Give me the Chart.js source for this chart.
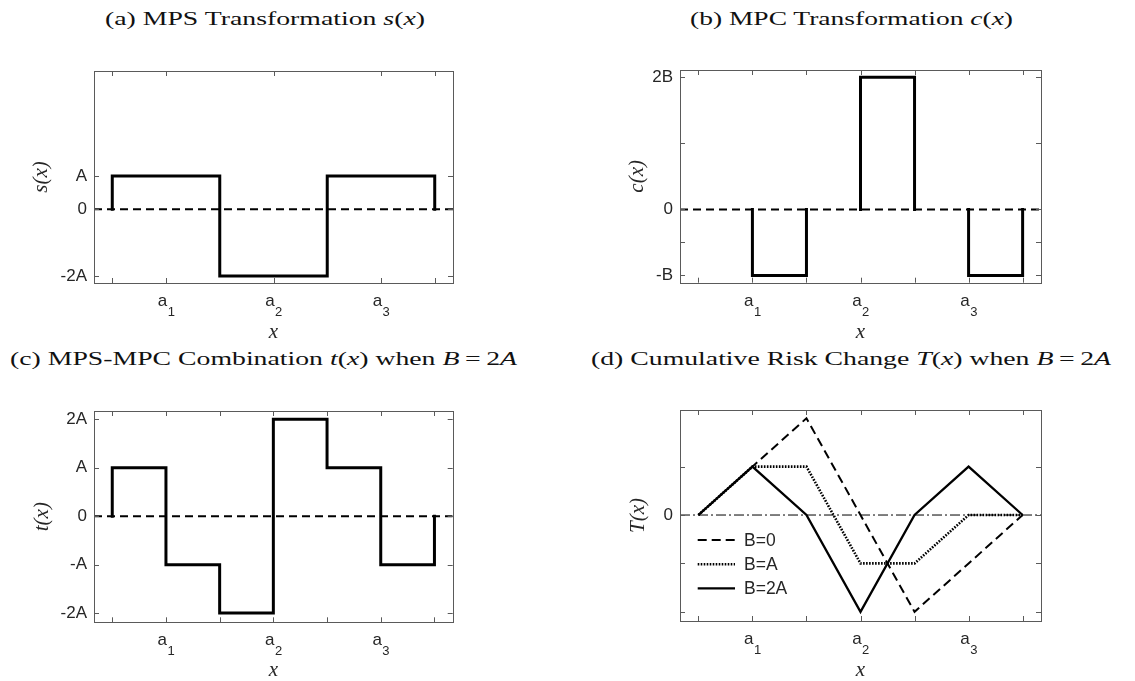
<!DOCTYPE html>
<html><head><meta charset="utf-8">
<script src="https://cdn.jsdelivr.net/npm/chart.js@4.4.1/dist/chart.umd.min.js"></script>
<style>
html,body{margin:0;padding:0;background:#fff;}
body{width:1135px;height:681px;position:relative;overflow:hidden;}
canvas{position:absolute;}
.ttl{position:absolute;font-family:"Liberation Serif",serif;font-size:19.5px;line-height:19.5px;color:#111;white-space:nowrap;transform-origin:0 0;}
</style></head><body>
<div id="tA" class="ttl">(a) MPS Transformation <i>s</i>(<i>x</i>)</div>
<div id="tB" class="ttl">(b) MPC Transformation <i>c</i>(<i>x</i>)</div>
<div id="tC" class="ttl">(c) MPS-MPC Combination <i>t</i>(<i>x</i>) when <i>B</i>&#8201;=&#8201;2<i>A</i></div>
<div id="tD" class="ttl">(d) Cumulative Risk Change <i>T</i>(<i>x</i>) when <i>B</i>&#8201;=&#8201;2<i>A</i></div>
<canvas id="cA"></canvas>
<canvas id="cB"></canvas>
<canvas id="cC"></canvas>
<canvas id="cD"></canvas>
<script>
// ---------------- data ----------------
const xTicksSparse = [0, 1, 3, 5, 6];
const xTicksFull = [0, 1, 2, 3, 4, 5, 6];
const xLabelValues = [1, 3, 5];
const xLabelSubs = ['1', '2', '3'];

// (a) s(x)
const sX = [0, 0, 2, 2, 4, 4, 6, 6];
const sY = [0, 1, 1, -2, -2, 1, 1, 0];
const yTicksA = [-2, 0, 1];
const yLabelsA = ['-2A', '0', 'A'];

// (b) c(x)  (null = gap)
const cX = [1, 1, 2, 2, 2, 3, 3, 4, 4, 4, 5, 5, 6, 6];
const cY = [0, -1, -1, 0, null, 0, 2, 2, 0, null, 0, -1, -1, 0];
const yTicksB = [-1, -0.5, 0, 1, 2];
const yLabelsB = ['-B', '', '0', '', '2B'];

// (c) t(x)
const tX = [0, 0, 1, 1, 2, 2, 3, 3, 4, 4, 5, 5, 6, 6];
const tY = [0, 1, 1, -1, -1, -2, -2, 2, 2, 1, 1, -1, -1, 0];
const yTicksC = [-2, -1, 0, 1, 2];
const yLabelsC = ['-2A', '-A', '0', 'A', '2A'];

// (d) T(x)
const dX = [0, 1, 2, 3, 4, 5, 6];
const T_B0 = [0, 1, 2, 0, -2, -1, 0];
const T_BA = [0, 1, 1, -1, -1, 0, 0];
const T_B2A = [0, 1, 0, -2, 0, 1, 0];
const legendLabels = ['B=0', 'B=A', 'B=2A'];
const yTicksD = [-2, -1, 0, 1];
const yLabelsD = ['', '', '0', ''];

// axis limits
const xMin = -0.34, xMax = 6.34;
const yRangeA = [-2.21, 4.15];
const yRangeB = [-1.11, 2.11];
const yRangeC = [-2.19, 2.17];
const yRangeD = [-2.19, 2.17];

// ---------------- helpers ----------------
const TXT = '#262626';
const FRAME = '#5a5a5a';
const pts = (xs, ys) => xs.map((x, i) => ({x: x, y: ys[i]}));

const framePlugin = {
  id: 'frame',
  afterDatasetsDraw(chart) {
    const {ctx, chartArea: a, scales} = chart;
    ctx.save();
    ctx.strokeStyle = FRAME;
    ctx.lineWidth = 1;
    ctx.beginPath();
    const tl = 5;
    scales.x.ticks.forEach(t => {
      const px = Math.round(scales.x.getPixelForValue(t.value)) + 0.5;
      ctx.moveTo(px, a.top); ctx.lineTo(px, a.top + tl);
      ctx.moveTo(px, a.bottom); ctx.lineTo(px, a.bottom - tl);
    });
    scales.y.ticks.forEach(t => {
      const py = Math.round(scales.y.getPixelForValue(t.value)) + 0.5;
      ctx.moveTo(a.left, py); ctx.lineTo(a.left + tl, py);
      ctx.moveTo(a.right, py); ctx.lineTo(a.right - tl, py);
    });
    ctx.stroke();
    ctx.strokeRect(Math.round(a.left) + 0.5, Math.round(a.top) + 0.5,
                   Math.round(a.right - a.left), Math.round(a.bottom - a.top));
    ctx.restore();
  }
};

const subLabelPlugin = {
  id: 'subLabels',
  afterDraw(chart) {
    const {ctx, chartArea: a, scales} = chart;
    ctx.save();
    ctx.fillStyle = TXT;
    ctx.textBaseline = 'alphabetic';
    ctx.textAlign = 'left';
    const mainFont = '17px "Liberation Sans", Arial, sans-serif';
    const subFont = '13px "Liberation Sans", Arial, sans-serif';
    xLabelValues.forEach((v, i) => {
      const px = scales.x.getPixelForValue(v);
      ctx.font = mainFont; const w1 = ctx.measureText('a').width;
      ctx.font = subFont; const w2 = ctx.measureText(xLabelSubs[i]).width;
      const x0 = px - (w1 + w2) / 2;
      const base = a.bottom + 23;
      ctx.font = mainFont; ctx.fillText('a', x0, base);
      ctx.font = subFont; ctx.fillText(xLabelSubs[i], x0 + w1 + 0.5, base + 10);
    });
    ctx.restore();
  }
};

const legendPlugin = {
  id: 'dLegend',
  afterDraw(chart, args, opts) {
    if (!opts || !opts.show) return;
    const {ctx, chartArea: a} = chart;
    ctx.save();
    ctx.font = '17.5px "Liberation Sans", Arial, sans-serif';
    ctx.textBaseline = 'middle';
    ctx.fillStyle = TXT;
    legendLabels.forEach((lab, i) => {
      const ds = chart.data.datasets.find(d => d.label === lab);
      const y = a.top + 130 + i * 24.2;
      ctx.save();
      ctx.strokeStyle = ds.borderColor;
      ctx.lineWidth = ds.borderWidth;
      ctx.setLineDash(ds.borderDash || []);
      ctx.beginPath();
      ctx.moveTo(a.left + 17.7, y); ctx.lineTo(a.left + 55, y);
      ctx.stroke();
      ctx.restore();
      ctx.fillText(lab, a.left + 64, y + 1);
    });
    ctx.restore();
  }
};

function makePanel(id, rect, area, yRange, xTicks, yTicks, yLabels, yTitle, yTitleX, xTitleY, datasets, showLegend) {
  const cv = document.getElementById(id);
  cv.width = rect.w; cv.height = rect.h;
  cv.style.left = rect.x + 'px'; cv.style.top = rect.y + 'px';
  cv.style.width = rect.w + 'px'; cv.style.height = rect.h + 'px';
  const L = area.l - rect.x;
  const T = area.t - rect.y;
  const R = rect.x + rect.w - area.r;
  const Bt = rect.y + rect.h - area.b;
  const tFontSize = 21;
  const lh = tFontSize * 1.0;
  const yPad = Math.max(0, yTitleX - rect.x - lh / 2);
  const xPad = Math.max(0, rect.h - (xTitleY - rect.y) - lh / 2);
  return new Chart(cv, {
    type: 'line',
    data: {datasets: datasets},
    options: {
      responsive: false,
      animation: false,
      devicePixelRatio: 1,
      layout: {padding: {left: 0, top: T, right: R, bottom: 0}},
      elements: {point: {radius: 0}, line: {tension: 0}},
      plugins: {legend: {display: false}, tooltip: {enabled: false}, dLegend: {show: !!showLegend}},
      scales: {
        x: {
          type: 'linear', min: xMin, max: xMax, bounds: 'data',
          afterBuildTicks: s => { s.ticks = xTicks.map(v => ({value: v})); },
          afterFit: s => { s.height = Bt; },
          ticks: {display: false},
          grid: {display: false, drawTicks: false},
          border: {display: false},
          title: {display: true, text: 'x', color: TXT,
                  font: {family: '"Liberation Serif", serif', style: 'italic', size: tFontSize, lineHeight: 1.0},
                  padding: {top: 0, bottom: xPad}}
        },
        y: {
          type: 'linear', min: yRange[0], max: yRange[1], bounds: 'data',
          afterBuildTicks: s => { s.ticks = yTicks.map(v => ({value: v})); },
          afterFit: s => { s.width = L; },
          ticks: {autoSkip: false, padding: 7, color: TXT,
                  font: {family: '"Liberation Sans", Arial, sans-serif', size: 17},
                  callback: v => { const i = yTicks.indexOf(v); return i >= 0 ? yLabels[i] : ''; }},
          grid: {display: false, drawTicks: false},
          border: {display: false},
          title: {display: true, text: yTitle, color: TXT,
                  font: {family: '"Liberation Serif", serif', style: 'italic', size: tFontSize, lineHeight: 1.0},
                  padding: {top: yPad, bottom: 0}}
        }
      }
    },
    plugins: [framePlugin, subLabelPlugin, legendPlugin]
  });
}

const zeroDashed = () => ({
  data: [{x: xMin, y: 0}, {x: xMax, y: 0}],
  borderColor: '#000', borderWidth: 2, borderDash: [8, 5], order: 10
});
const stepLine = (xs, ys) => ({
  data: pts(xs, ys), borderColor: '#000', borderWidth: 3,
  borderCapStyle: 'square', borderJoinStyle: 'miter', spanGaps: false, order: 1
});

function fitTitle(id, cx, width, baseline) {
  const el = document.getElementById(id);
  const w = el.getBoundingClientRect().width;
  const sx = width / w;
  el.style.left = (cx - width / 2) + 'px';
  el.style.top = (baseline - 19.5 * 0.8375) + 'px';
  el.style.transform = 'scaleX(' + sx + ')';
}

function build() {
  fitTitle('tA', 265, 320, 25.7);
  fitTitle('tB', 851, 323, 25.7);
  fitTitle('tC', 263, 507, 365.7);
  fitTitle('tD', 851, 520, 365.7);

  makePanel('cA', {x: 0, y: 45, w: 560, h: 305}, {l: 94, t: 71, r: 453, b: 283},
    yRangeA, xTicksSparse, yTicksA, yLabelsA, 's(x)', 41, 332.7,
    [stepLine(sX, sY), zeroDashed()]);

  makePanel('cB', {x: 560, y: 45, w: 575, h: 305}, {l: 680, t: 70, r: 1041, b: 282.7},
    yRangeB, xTicksFull, yTicksB, yLabelsB, 'c(x)', 637, 332.7,
    [stepLine(cX, cY), zeroDashed()]);

  makePanel('cC', {x: 0, y: 385, w: 560, h: 296}, {l: 94, t: 411, r: 452.7, b: 622.3},
    yRangeC, xTicksFull, yTicksC, yLabelsC, 't(x)', 42, 671.7,
    [stepLine(tX, tY), zeroDashed()]);

  makePanel('cD', {x: 560, y: 385, w: 575, h: 296}, {l: 680, t: 410, r: 1041, b: 621},
    yRangeD, xTicksFull, yTicksD, yLabelsD, 'T(x)', 638, 671.7,
    [
      {label: 'B=2A', data: pts(dX, T_B2A), borderColor: '#000', borderWidth: 2.3, order: 1},
      {label: 'B=A', data: pts(dX, T_BA), borderColor: '#000', borderWidth: 2.6, borderDash: [1.6, 1.4], order: 2},
      {label: 'B=0', data: pts(dX, T_B0), borderColor: '#000', borderWidth: 2, borderDash: [9, 5], order: 3},
      {data: [{x: xMin, y: 0}, {x: xMax, y: 0}], borderColor: '#000', borderWidth: 1, borderDash: [10, 3, 2, 3], order: 10}
    ], true);
}

if (document.fonts && document.fonts.load) {
  Promise.all([
    document.fonts.load('19.5px "Liberation Serif"'),
    document.fonts.load('italic 19.5px "Liberation Serif"'),
    document.fonts.load('17px "Liberation Sans"')
  ]).then(build, build);
} else { build(); }
</script>
</body></html>
